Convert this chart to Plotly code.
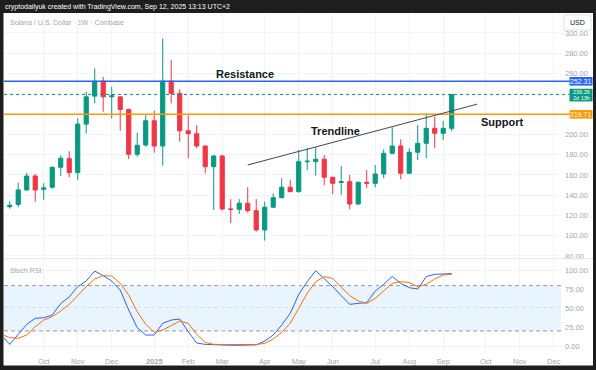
import plotly.graph_objects as go
import pandas as pd

# ---------------- data ----------------
weeks = pd.date_range("2024-09-02", periods=54, freq="W-MON")

opens = [128.2, 128.6, 130.9, 145.1, 158.9, 145.8, 147.8, 167.5, 176.0, 162.2,
         210.1, 237.7, 252.5, 237.0, 237.0, 224.6, 180.3, 189.5, 213.4, 188.5,
         252.5, 240.4, 203.5, 200.6, 188.5, 168.1, 178.6, 126.4, 126.1, 132.0,
         124.7, 105.7, 128.1, 137.5, 147.8, 143.5, 173.0, 173.0, 175.4, 157.6,
         152.5, 153.3, 131.3, 152.7, 151.7, 160.9, 181.3, 188.5, 161.6, 182.3,
         191.1, 205.9, 201.0, 205.9]
highs = [133.0, 133.9, 152.3, 162.2, 160.9, 151.7, 168.1, 179.3, 183.3, 215.8,
         242.0, 265.0, 256.7, 246.9, 237.5, 225.0, 201.6, 219.0, 223.3, 294.6,
         273.2, 244.3, 219.0, 209.2, 189.0, 179.6, 180.0, 136.0, 136.0, 147.8,
         136.0, 133.6, 141.9, 156.7, 155.0, 184.5, 186.2, 187.2, 179.6, 158.0,
         168.8, 159.9, 153.3, 164.8, 169.8, 185.2, 206.9, 195.1, 186.2, 209.2,
         220.7, 217.3, 213.1, 239.7]
lows = [125.0, 126.7, 128.1, 144.4, 133.6, 135.3, 146.4, 158.9, 157.6, 155.0,
        201.0, 230.5, 222.3, 215.8, 203.5, 175.4, 177.9, 187.8, 181.9, 169.1,
        230.5, 192.7, 176.4, 186.2, 161.6, 125.4, 124.7, 112.3, 121.5, 122.8,
        104.0, 95.2, 127.1, 137.0, 142.9, 142.5, 164.8, 159.2, 150.0, 141.2,
        140.2, 126.1, 130.5, 146.8, 147.8, 156.7, 180.3, 155.7, 160.9, 174.7,
        176.4, 186.2, 194.4, 203.0]
closes = [129.8, 130.0, 145.1, 158.9, 145.1, 147.1, 167.5, 176.4, 162.2, 210.1,
          237.0, 252.5, 237.0, 238.0, 224.6, 180.3, 189.2, 213.4, 188.5, 252.5,
          240.4, 203.5, 200.6, 188.5, 168.1, 178.6, 126.4, 126.0, 132.0, 124.7,
          105.7, 128.1, 137.5, 147.8, 143.5, 173.0, 173.5, 175.4, 157.6, 151.7,
          153.3, 131.3, 152.7, 151.7, 160.9, 181.3, 188.5, 161.6, 182.3, 191.1,
          205.9, 201.0, 205.9, 239.26]

stoch_k = [14.6, 2.2, 15.5, 28.7, 36.7, 37.5, 40.9, 56.3, 65.1, 78.6,
           86.1, 99.3, 93.2, 86.1, 74.2, 47.7, 24.3, 14.6, 14.6, 30.1,
           34.4, 35.8, 19.0, 4.0, 2.2, 1.5, 1.5, 1.0, 1.0, 1.0,
           1.5, 6.6, 14.6, 27.8, 43.3, 68.4, 85.2, 99.8, 89.6, 78.6,
           66.7, 55.2, 56.5, 57.4, 72.8, 81.7, 92.3, 83.0, 77.3, 75.5,
           91.9, 95.0, 95.4, 95.9]
stoch_d = [15.5, 11.1, 10.2, 14.6, 25.6, 34.4, 38.9, 46.4, 55.2, 67.5,
           78.6, 88.7, 93.2, 92.7, 83.0, 67.5, 45.5, 28.7, 18.1, 21.2,
           27.0, 33.1, 30.1, 15.5, 4.9, 2.2, 2.0, 2.0, 2.0, 2.0,
           2.0, 3.5, 9.3, 18.1, 30.1, 50.0, 69.8, 85.2, 91.9, 89.6,
           78.6, 66.7, 59.6, 56.5, 63.1, 72.8, 83.0, 85.2, 84.3, 78.6,
           81.7, 88.7, 94.1, 95.0]

resistance = 252.31
support = 219.71
last_price = 239.26
countdown = "2d 13h"
trend_x = ["2025-03-24", "2025-09-29"]
trend_y = [169.8, 229.8]

month_ticks = ["2024-10-07", "2024-11-04", "2024-12-02", "2025-01-06", "2025-02-03",
               "2025-03-03", "2025-04-07", "2025-05-05", "2025-06-02", "2025-07-07",
               "2025-08-04", "2025-09-01", "2025-10-06", "2025-11-03", "2025-12-01"]
month_labels = ["Oct", "Nov", "Dec", "<b>2025</b>", "Feb", "Mar", "Apr", "May", "Jun",
                "Jul", "Aug", "Sep", "Oct", "Nov", "Dec"]
price_ticks = list(range(80, 301, 20))
rsi_ticks = [0, 25, 50, 75, 100]

# ---------------- layout geometry ----------------
W, H = 596, 370
ML, MR, MT, MB = 4, 35, 13, 18
PW, PH = W - ML - MR, H - MT - MB
price_dom = [(H - MB - 258) / PH, 1.0]
rsi_dom = [0.0, (H - MB - 259.5) / PH]
price_rng = [78.0, 319.7]
rsi_rng = [-7.9, 114.6]
x_rng = ["2024-09-04 07:00", "2025-12-07"]

FONT = "Liberation Sans, Arial, sans-serif"
GREEN, RED = "#089981", "#f23645"
BLUE, ORANGE = "#2962ff", "#ff9800"
GRID = "#f0f3fa"
AXTXT = "#a3a6af"


def px_x(px):
    return (px - ML) / PW


def px_y(py):
    return (H - MB - py) / PH


def price_paper(p):
    return price_dom[0] + (p - price_rng[0]) / (price_rng[1] - price_rng[0]) * (price_dom[1] - price_dom[0])


fig = go.Figure()

fig.add_trace(go.Candlestick(
    x=weeks, open=opens, high=highs, low=lows, close=closes,
    increasing=dict(line=dict(color=GREEN, width=1), fillcolor=GREEN),
    decreasing=dict(line=dict(color=RED, width=1), fillcolor=RED),
    whiskerwidth=0, xaxis="x", yaxis="y", showlegend=False, hoverinfo="skip"))

fig.add_trace(go.Scatter(x=weeks, y=stoch_k, mode="lines", line=dict(color=BLUE, width=1),
                         xaxis="x2", yaxis="y2", showlegend=False, hoverinfo="skip"))
fig.add_trace(go.Scatter(x=weeks, y=stoch_d, mode="lines", line=dict(color="#ff6d00", width=1),
                         xaxis="x2", yaxis="y2", showlegend=False, hoverinfo="skip"))

shapes = []
# stoch band
shapes.append(dict(type="rect", xref="paper", yref="y2", x0=0, x1=1, y0=20, y1=80,
                   fillcolor="rgba(33,150,243,0.1)", line=dict(width=0), layer="below"))
for lv in (20, 50, 80):
    shapes.append(dict(type="line", xref="paper", yref="y2", x0=0, x1=1, y0=lv, y1=lv,
                       line=dict(color="#9598a1", width=1, dash="4px,3px"), layer="below"))
# pane separator
shapes.append(dict(type="line", xref="paper", yref="paper", x0=0, x1=px_x(593),
                   y0=px_y(258.7), y1=px_y(258.7), line=dict(color="#e0e3eb", width=1)))
# horizontal levels
box_x0, box_x1 = px_x(569.5), px_x(592.5)
box_xc = (box_x0 + box_x1) / 2
shapes.append(dict(type="line", xref="paper", yref="paper", x0=0, x1=box_x0,
                   y0=price_paper(resistance), y1=price_paper(resistance),
                   line=dict(color=BLUE, width=1.5)))
shapes.append(dict(type="line", xref="paper", yref="paper", x0=0, x1=box_x0,
                   y0=price_paper(support), y1=price_paper(support),
                   line=dict(color=ORANGE, width=1.5)))
shapes.append(dict(type="line", xref="paper", yref="paper", x0=0, x1=box_x0,
                   y0=price_paper(last_price), y1=price_paper(last_price),
                   line=dict(color=GREEN, width=1, dash="dot")))
# trendline
shapes.append(dict(type="line", xref="x", yref="y", x0=trend_x[0], x1=trend_x[1],
                   y0=trend_y[0], y1=trend_y[1], line=dict(color="#434651", width=1)))
# price label boxes
hpx = 1 / PH
shapes.append(dict(type="rect", xref="paper", yref="paper", x0=box_x0, x1=box_x1,
                   y0=price_paper(resistance) - 4.3 * hpx, y1=price_paper(resistance) + 4.3 * hpx,
                   fillcolor=BLUE, line=dict(width=0)))
shapes.append(dict(type="rect", xref="paper", yref="paper", x0=box_x0, x1=box_x1,
                   y0=price_paper(last_price) - 6.9 * hpx, y1=price_paper(last_price) + 5.8 * hpx,
                   fillcolor=GREEN, line=dict(width=0)))
shapes.append(dict(type="rect", xref="paper", yref="paper", x0=box_x0, x1=box_x1,
                   y0=price_paper(support) - 4.3 * hpx, y1=price_paper(support) + 4.3 * hpx,
                   fillcolor=ORANGE, line=dict(width=0)))
# USD box
shapes.append(dict(type="rect", xref="paper", yref="paper", x0=px_x(564), x1=px_x(591),
                   y0=px_y(30), y1=px_y(15), fillcolor="white",
                   line=dict(color="#e0e3eb", width=1)))
# dark frame
DARK = "#1e1e1e"
shapes.append(dict(type="rect", xref="paper", yref="paper", x0=px_x(-5), x1=px_x(600),
                   y0=px_y(13), y1=px_y(-5), fillcolor=DARK, line=dict(width=0)))
shapes.append(dict(type="rect", xref="paper", yref="paper", x0=px_x(-5), x1=px_x(3.5),
                   y0=px_y(375), y1=px_y(-5), fillcolor=DARK, line=dict(width=0)))
shapes.append(dict(type="rect", xref="paper", yref="paper", x0=px_x(593), x1=px_x(600),
                   y0=px_y(375), y1=px_y(-5), fillcolor=DARK, line=dict(width=0)))
shapes.append(dict(type="rect", xref="paper", yref="paper", x0=px_x(-5), x1=px_x(600),
                   y0=px_y(375), y1=px_y(365.5), fillcolor=DARK, line=dict(width=0)))

annotations = [
    dict(text="cryptodailyuk created with TradingView.com, Sep 12, 2025 13:13 UTC+2",
         xref="paper", yref="paper", x=px_x(3.3), y=px_y(6.5), xanchor="left", yanchor="middle",
         showarrow=False, font=dict(family=FONT, size=7, color="white")),
    dict(text="Solana / U.S. Dollar · 1W · Coinbase", xref="paper", yref="paper",
         x=px_x(8), y=px_y(22.3), xanchor="left", yanchor="middle", showarrow=False,
         font=dict(family=FONT, size=7, color="#a3a6af")),
    dict(text="Stoch RSI", xref="paper", yref="paper", x=px_x(8), y=px_y(270.7),
         xanchor="left", yanchor="middle", showarrow=False,
         font=dict(family=FONT, size=7, color="#a3a6af")),
    dict(text="USD", xref="paper", yref="paper", x=px_x(577.5), y=px_y(22.5),
         xanchor="center", yanchor="middle", showarrow=False,
         font=dict(family=FONT, size=7, color="#131722")),
    dict(text="<b>Resistance</b>", xref="x", yref="y", x="2025-03-22", y=259.2, showarrow=False,
         xanchor="center", yanchor="middle", font=dict(family=FONT, size=11, color="#131722")),
    dict(text="<b>Trendline</b>", xref="x", yref="y", x="2025-06-04", y=203.6, showarrow=False,
         xanchor="center", yanchor="middle", font=dict(family=FONT, size=11, color="#131722")),
    dict(text="<b>Support</b>", xref="x", yref="y", x="2025-10-19", y=212.4, showarrow=False,
         xanchor="center", yanchor="middle", font=dict(family=FONT, size=11, color="#131722")),
    dict(text=f"{resistance:.2f}", xref="paper", yref="paper", x=box_xc,
         y=price_paper(resistance), xanchor="center", yanchor="middle", showarrow=False,
         borderpad=0, font=dict(family=FONT, size=7, color="white")),
    dict(text=f"{last_price:.2f}", xref="paper", yref="paper", x=box_xc,
         y=price_paper(last_price) + 2.6 * hpx, xanchor="center", yanchor="middle", showarrow=False,
         borderpad=0, font=dict(family=FONT, size=5.5, color="white")),
    dict(text=countdown, xref="paper", yref="paper", x=box_xc,
         y=price_paper(last_price) - 3.8 * hpx, xanchor="center", yanchor="middle", showarrow=False,
         borderpad=0, font=dict(family=FONT, size=5.5, color="white")),
    dict(text=f"{support:.2f}", xref="paper", yref="paper", x=box_xc,
         y=price_paper(support), xanchor="center", yanchor="middle", showarrow=False,
         borderpad=0, font=dict(family=FONT, size=7, color="white")),
]

# price labels hidden behind the level boxes in the reference
price_labels = ["" if v in (220, 240) else f"{v:.2f}" for v in price_ticks]

axis_common = dict(showline=False, zeroline=False, gridcolor=GRID, gridwidth=1, showgrid=True,
                   ticks="", fixedrange=True, automargin=False)

fig.update_layout(
    template="none",
    width=W, height=H,
    margin=dict(l=ML, r=MR, t=MT, b=MB, pad=0, autoexpand=False),
    paper_bgcolor="white", plot_bgcolor="white",
    font=dict(family=FONT, size=7.5, color=AXTXT),
    showlegend=False,
    xaxis=dict(domain=[0, 1], anchor="y", range=x_rng, type="date", tickmode="array",
               tickvals=month_ticks, showticklabels=False, rangeslider=dict(visible=False),
               **axis_common),
    xaxis2=dict(domain=[0, 1], anchor="y2", range=x_rng, type="date", tickmode="array",
                tickvals=month_ticks, ticktext=month_labels, matches="x",
                tickfont=dict(family=FONT, size=7.5, color=AXTXT), ticklabelstandoff=3,
                **axis_common),
    yaxis=dict(domain=price_dom, anchor="x", range=price_rng, side="right", tickmode="array",
               tickvals=price_ticks, ticktext=price_labels,
               tickfont=dict(family=FONT, size=7.5, color=AXTXT), ticklabelstandoff=3,
               **axis_common),
    yaxis2=dict(domain=rsi_dom, anchor="x2", range=rsi_rng, side="right", tickmode="array",
                tickvals=rsi_ticks, ticktext=[f"{v:.2f}" for v in rsi_ticks],
                tickfont=dict(family=FONT, size=7.5, color=AXTXT), ticklabelstandoff=3,
                **axis_common),
    shapes=shapes,
    annotations=annotations,
)

fig.write_html("out.html", config={"displayModeBar": False},
               post_script="document.body.style.margin='0';document.body.style.overflow='hidden';")
